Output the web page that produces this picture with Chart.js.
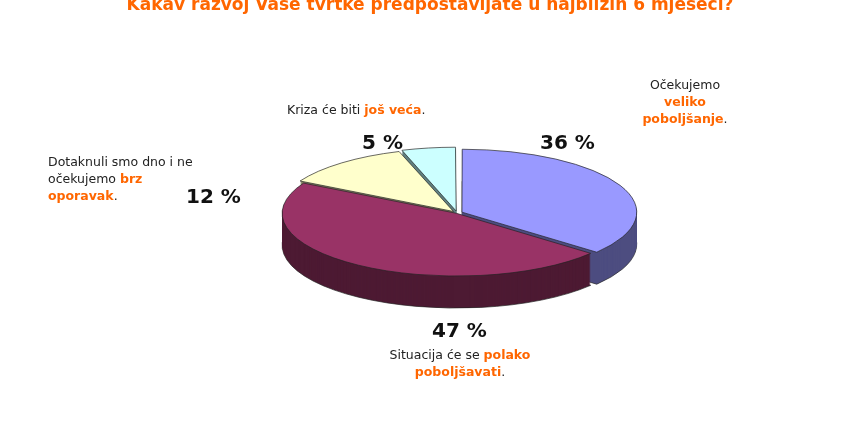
<!DOCTYPE html>
<html><head><meta charset="utf-8">
<script src="https://cdn.jsdelivr.net/npm/chart.js@4/dist/chart.umd.min.js"></script>
<style>
body{margin:0;background:#fff;font-family:"DejaVu Sans",Verdana,sans-serif;}
#wrap{position:relative;width:860px;height:430px;overflow:hidden;}
.t{position:absolute;font-size:12.5px;color:#222;line-height:17px;}
.o{color:#FF6600;font-weight:bold;}
.p{position:absolute;font-size:20px;font-weight:bold;color:#111;}
#title{position:absolute;left:0;width:860px;top:-6px;text-align:center;color:#FF6600;font-weight:bold;font-size:17px;}
</style></head><body>
<div id="wrap">
<canvas id="pie" width="860" height="430"></canvas>
<div id="title">Kakav razvoj Vaše tvrtke predpostavljate u najbližih 6 mjeseci?</div>
<div class="t" style="left:287px;top:101px">Kriza će biti <span class="o">još veća</span>.</div>
<div class="p" style="left:362px;top:130px">5 %</div>
<div class="p" style="left:540px;top:130px">36 %</div>
<div class="t" style="left:620px;top:76px;width:130px;text-align:center">Očekujemo<br><span class="o">veliko<br>poboljšanje</span>.</div>
<div class="t" style="left:48px;top:153px;width:225px;text-align:left">Dotaknuli smo dno i ne<br>očekujemo <span class="o">brz<br>oporavak</span>.</div>
<div class="p" style="left:186px;top:184px">12 %</div>
<div class="p" style="left:432px;top:318px">47 %</div>
<div class="t" style="left:330px;top:346px;width:260px;text-align:center">Situacija će se <span class="o">polako<br>poboljšavati</span>.</div>
</div>
<script>
var labels = ['Očekujemo veliko poboljšanje', 'Situacija će se polako poboljšavati', 'Dotaknuli smo dno i ne očekujemo brz oporavak', 'Kriza će biti još veća'];
var values = [36, 47, 12, 5];
var topColors = ['#9999FF', '#993366', '#FFFFCC', '#CCFFFF'];
var sideColors = ['#4D4D80', '#4D1A33', '#808060', '#608080'];

var squash = 0.36, depth = 32;

var pie3d = {
  id: 'pie3d',
  beforeDatasetsDraw: function (chart) {
    var ctx = chart.ctx;
    var arcs = chart.getDatasetMeta(0).data;
    var cy = arcs[0].y;
    ctx.save();
    ctx.translate(0, cy);
    ctx.scale(1, squash);
    ctx.translate(0, -cy);
    for (var d = depth; d > 0; d--) {
      ctx.save();
      ctx.translate(0, d / squash);
      arcs.forEach(function (a, i) {
        var bg = a.options.backgroundColor, bw = a.options.borderWidth;
        a.options.backgroundColor = sideColors[i];
        a.options.borderWidth = (d === depth) ? 1 : 0;
        a.draw(ctx);
        a.options.backgroundColor = bg;
        a.options.borderWidth = bw;
      });
      ctx.restore();
    }
  },
  afterDatasetsDraw: function (chart) {
    chart.ctx.restore();
  }
};

new Chart(document.getElementById('pie').getContext('2d'), {
  type: 'pie',
  data: {
    labels: labels,
    datasets: [{
      data: values,
      backgroundColor: topColors,
      borderColor: '#222',
      borderWidth: 1,
      offset: [22, 4, 22, 22]
    }]
  },
  options: {
    responsive: false,
    animation: false,
    layout: { padding: { left: 272, right: 218, top: 28, bottom: 32 } },
    plugins: { legend: { display: false }, tooltip: { enabled: false } }
  },
  plugins: [pie3d]
});
</script>
</body></html>
